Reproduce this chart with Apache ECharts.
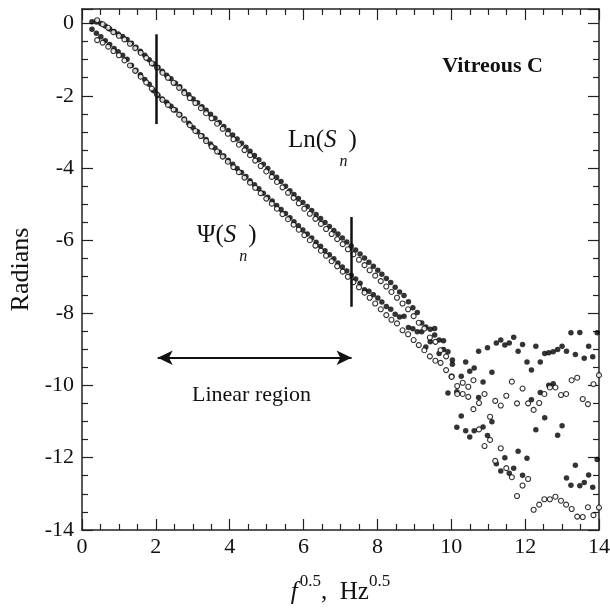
<!DOCTYPE html>
<html>
<head>
<meta charset="utf-8">
<script src="https://cdn.jsdelivr.net/npm/echarts@6/dist/echarts.min.js"></script>
<style>
  html, body { margin: 0; padding: 0; background: #fff; }
  #chart { width: 610px; height: 610px; }
</style>
</head>
<body>
<div id="chart"></div>
<script>
// x positions (f^0.5) of the filled-dot runs and of the open-circle runs
const xFilled = [
  0.27, 0.39, 0.51, 0.63, 0.75, 0.87, 0.98, 1.10, 1.22, 1.34, 1.46, 1.58, 1.70, 1.82, 1.94, 2.06,
  2.17, 2.29, 2.41, 2.53, 2.65, 2.77, 2.89, 3.01, 3.13, 3.25, 3.36, 3.48, 3.60, 3.72, 3.84, 3.96,
  4.08, 4.20, 4.32, 4.44, 4.55, 4.67, 4.79, 4.91, 5.03, 5.15, 5.27, 5.39, 5.51, 5.63, 5.74, 5.86,
  5.98, 6.10, 6.22, 6.34, 6.46, 6.58, 6.70, 6.82, 6.93, 7.05, 7.17, 7.29, 7.41, 7.53, 7.65, 7.77,
  7.89, 8.01, 8.12, 8.24, 8.36, 8.48, 8.60, 8.72, 8.84, 8.96, 9.08, 9.20, 9.31, 9.43, 9.55, 9.67,
  9.79, 9.91, 10.03, 10.15, 10.27, 10.39, 10.50, 10.62, 10.74, 10.86, 10.98, 11.10, 11.22, 11.34, 11.45, 11.57,
  11.69, 11.81, 11.93, 12.05, 12.17, 12.29, 12.41, 12.53, 12.64, 12.76, 12.88, 13.00, 13.12, 13.24, 13.36, 13.48,
  13.60, 13.72, 13.83, 13.95
]
const xOpen = [
  0.41, 0.56, 0.71, 0.85, 1.00, 1.15, 1.30, 1.44, 1.59, 1.74, 1.89, 2.03, 2.18, 2.33, 2.48, 2.63,
  2.77, 2.92, 3.07, 3.22, 3.36, 3.51, 3.66, 3.81, 3.95, 4.10, 4.25, 4.40, 4.55, 4.69, 4.84, 4.99,
  5.14, 5.28, 5.43, 5.58, 5.73, 5.87, 6.02, 6.17, 6.32, 6.47, 6.61, 6.76, 6.91, 7.06, 7.20, 7.35,
  7.50, 7.65, 7.79, 7.94, 8.09, 8.24, 8.38, 8.53, 8.68, 8.83, 8.98, 9.12, 9.27, 9.42, 9.57, 9.71,
  9.86, 10.01, 10.16, 10.31, 10.46, 10.60, 10.75, 10.90, 11.05, 11.19, 11.34, 11.49, 11.64, 11.78, 11.93, 12.08,
  12.23, 12.38, 12.52, 12.67, 12.82, 12.97, 13.11, 13.26, 13.41, 13.56, 13.70, 13.85, 14.00
]

// Ln(Sn), filled dots
const lnFilled = [
  0.05, 0.04, 0.00, -0.07, -0.15, -0.22, -0.29, -0.36, -0.44, -0.55, -0.66, -0.77, -0.88, -1.00, -1.12, -1.22,
  -1.32, -1.43, -1.53, -1.65, -1.75, -1.87, -1.97, -2.09, -2.19, -2.30, -2.40, -2.51, -2.62, -2.74, -2.85, -2.96,
  -3.08, -3.19, -3.31, -3.42, -3.53, -3.65, -3.77, -3.89, -4.01, -4.13, -4.25, -4.37, -4.50, -4.62, -4.73, -4.84,
  -4.95, -5.06, -5.17, -5.28, -5.39, -5.50, -5.61, -5.72, -5.82, -5.93, -6.04, -6.15, -6.26, -6.37, -6.48, -6.60,
  -6.71, -6.82, -6.93, -7.05, -7.16, -7.29, -7.42, -7.52, -7.69, -7.86, -7.99, -8.28, -8.39, -8.45, -8.43, -8.75,
  -8.77, -9.07, -9.30, -11.16, -9.75, -9.36, -9.61, -9.52, -9.06, -9.91, -8.96, -9.64, -8.83, -8.75, -8.89, -8.83,
  -8.67, -9.06, -8.87, -9.36, -9.58, -8.92, -9.36, -9.12, -9.10, -9.07, -9.01, -8.92, -9.06, -8.55, -9.15, -8.54,
  -9.25, -8.92, -9.21, -8.55
]
// Psi(Sn), filled dots
const psiFilled = [
  -0.16, -0.27, -0.37, -0.48, -0.58, -0.69, -0.78, -0.88, -0.99, -1.16, -1.29, -1.42, -1.55, -1.68, -1.86, -1.99,
  -2.09, -2.18, -2.29, -2.39, -2.52, -2.64, -2.76, -2.88, -2.99, -3.10, -3.21, -3.33, -3.44, -3.56, -3.66, -3.78,
  -3.89, -4.01, -4.12, -4.23, -4.35, -4.46, -4.57, -4.69, -4.80, -4.91, -5.03, -5.14, -5.25, -5.37, -5.48, -5.59,
  -5.71, -5.82, -5.93, -6.05, -6.16, -6.28, -6.39, -6.50, -6.62, -6.73, -6.84, -6.96, -7.06, -7.18, -7.36, -7.40,
  -7.50, -7.59, -7.70, -7.82, -7.90, -8.04, -8.11, -8.09, -8.40, -8.44, -8.52, -8.52, -8.94, -8.80, -8.61, -9.12,
  -9.01, -10.21, -9.42, -10.18, -10.85, -11.26, -11.43, -11.26, -10.34, -11.15, -11.39, -11.01, -12.17, -12.37, -12.00, -12.43,
  -12.29, -11.82, -12.49, -12.02, -10.40, -11.23, -10.20, -10.90, -10.00, -9.96, -11.38, -11.12, -12.56, -12.76, -12.21, -12.78,
  -12.69, -12.48, -12.82, -12.05
]
// Ln(Sn), open circles
const lnOpen = [
  0.09, -0.02, -0.12, -0.24, -0.34, -0.44, -0.56, -0.68, -0.81, -0.95, -1.10, -1.22, -1.36, -1.50, -1.64, -1.78,
  -1.92, -2.06, -2.20, -2.34, -2.48, -2.62, -2.77, -2.91, -3.05, -3.20, -3.35, -3.50, -3.64, -3.79, -3.94, -4.09,
  -4.24, -4.38, -4.53, -4.68, -4.82, -4.97, -5.12, -5.26, -5.40, -5.54, -5.68, -5.82, -5.96, -6.10, -6.24, -6.38,
  -6.53, -6.68, -6.82, -6.97, -7.12, -7.27, -7.42, -7.58, -7.74, -7.90, -8.09, -8.27, -8.43, -8.68, -8.80, -9.03,
  -9.20, -9.75, -10.02, -9.93, -10.04, -9.86, -10.49, -10.24, -10.87, -10.43, -10.56, -10.29, -9.90, -10.50, -10.09, -10.50,
  -10.68, -10.49, -10.24, -10.06, -10.06, -10.27, -10.24, -9.86, -9.79, -10.38, -10.52, -9.97, -9.72
]
// Psi(Sn), open circles
const psiOpen = [
  -0.46, -0.53, -0.64, -0.76, -0.88, -1.02, -1.16, -1.31, -1.47, -1.63, -1.80, -1.96, -2.11, -2.25, -2.38, -2.52,
  -2.66, -2.81, -2.97, -3.11, -3.25, -3.40, -3.54, -3.68, -3.82, -3.97, -4.11, -4.26, -4.40, -4.54, -4.69, -4.84,
  -4.98, -5.12, -5.27, -5.41, -5.56, -5.70, -5.85, -5.99, -6.14, -6.28, -6.42, -6.57, -6.71, -6.86, -7.00, -7.15,
  -7.29, -7.44, -7.58, -7.74, -7.90, -8.06, -8.19, -8.29, -8.48, -8.59, -8.75, -8.89, -9.03, -9.20, -9.32, -9.38,
  -9.58, -9.77, -10.24, -10.24, -10.32, -10.66, -11.22, -11.68, -11.51, -12.09, -11.74, -12.29, -12.54, -13.06, -12.77, -12.59,
  -13.44, -13.30, -13.15, -13.15, -13.08, -13.19, -13.30, -13.42, -13.63, -13.64, -13.37, -13.59, -13.38
]

// linear-region markers: [x, yTop, yBottom] and the arrow [xFrom, xTo, y]
const bracket1 = [2.0, -0.3, -2.78]
const bracket2 = [7.3, -5.35, -7.83]
const arrowSpan = [2.05, 7.3, -9.24]

const FONT = '"Liberation Serif", "DejaVu Serif", serif'
const dom = document.getElementById('chart')
const chart = echarts.init(dom, null, { renderer: 'canvas' })

const pairs = (xs, ys) => xs.map((x, i) => [x, ys[i]])
const vline = (b) => [
  { coord: [b[0], b[1]], symbol: 'none' },
  { coord: [b[0], b[2]], symbol: 'none' },
]

const axisBase = {
  type: 'value',
  axisLine: { show: true, onZero: false, lineStyle: { color: '#222', width: 1.5 } },
  axisTick: { show: true, inside: true, length: 11, lineStyle: { color: '#222', width: 1.2 } },
  minorTick: { show: true, splitNumber: 4, length: 6, lineStyle: { color: '#222', width: 1.2 } },
  splitLine: { show: false },
  minorSplitLine: { show: false },
}

const filledStyle = { color: '#000' }
const openStyle = { color: '#fff', borderColor: '#000', borderWidth: 1.1 }

const subText = (lead, left, top) => ({
  type: 'text', left, top,
  style: {
    text: `{t|${lead}}{i|S}{n|n}{t|)}`,
    rich: {
      t: { fontFamily: FONT, fontSize: 25, fill: '#111', lineHeight: 42, verticalAlign: 'top' },
      i: { fontFamily: FONT, fontSize: 25, fontStyle: 'italic', fill: '#111', lineHeight: 42, verticalAlign: 'top', padding: [0, 3, 0, 0] },
      n: { fontFamily: FONT, fontSize: 16, fontStyle: 'italic', fill: '#111', lineHeight: 42, verticalAlign: 'bottom', padding: [0, 1, 0, 0] },
    },
  },
})

const option = {
  animation: false,
  backgroundColor: '#fff',
  grid: { left: 82, right: 11, top: 9, bottom: 80, containLabel: false, outerBoundsMode: 'none' },
  xAxis: [
    {
      ...axisBase,
      position: 'bottom',
      min: 0, max: 14, interval: 2,
      axisLabel: { color: '#111', fontFamily: FONT, fontSize: 22, margin: 6 },
      name: '{i|f}{s|0.5}{t|,  Hz}{s|0.5}',
      nameLocation: 'middle',
      nameGap: 43,
      nameTextStyle: {
        rich: {
          i: { fontFamily: FONT, fontStyle: 'italic', fontSize: 25, color: '#111', lineHeight: 32, verticalAlign: 'bottom', padding: [0, 2, 0, 0] },
          t: { fontFamily: FONT, fontSize: 25, color: '#111', lineHeight: 32, verticalAlign: 'bottom' },
          s: { fontFamily: FONT, fontSize: 17, color: '#111', lineHeight: 32, verticalAlign: 'top' },
        },
      },
    },
    {
      ...axisBase,
      position: 'top',
      min: 0, max: 14, interval: 2,
      axisLabel: { show: false },
    },
  ],
  yAxis: [
    {
      ...axisBase,
      position: 'left',
      min: -14, max: 0.4, interval: 2,
      axisLabel: {
        color: '#111', fontFamily: FONT, fontSize: 22, margin: 8,
        formatter: (v) => (Math.abs(v % 2) < 1e-9 ? String(v) : ''),
      },
      name: 'Radians',
      nameLocation: 'middle',
      nameGap: 44,
      nameTextStyle: { fontFamily: FONT, fontSize: 26, color: '#111' },
    },
    {
      ...axisBase,
      position: 'right',
      min: -14, max: 0.4, interval: 2,
      axisLabel: { show: false },
    },
  ],
  series: [
    {
      name: 'Ln filled',
      type: 'scatter',
      symbolSize: 5.5,
      itemStyle: filledStyle,
      data: pairs(xFilled, lnFilled),
      markLine: {
        silent: true,
        animation: false,
        label: { show: false },
        lineStyle: { color: '#111', type: 'solid', width: 2.5 },
        data: [vline(bracket1), vline(bracket2)],
      },
    },
    {
      name: 'Psi filled',
      type: 'scatter',
      symbolSize: 5.5,
      itemStyle: filledStyle,
      data: pairs(xFilled, psiFilled),
      markLine: {
        silent: true,
        animation: false,
        label: { show: false },
        symbol: ['arrow', 'arrow'],
        symbolSize: [11, 15],
        lineStyle: { color: '#111', type: 'solid', width: 2 },
        data: [[
          { coord: [arrowSpan[0], arrowSpan[2]] },
          { coord: [arrowSpan[1], arrowSpan[2]] },
        ]],
      },
    },
    {
      name: 'Ln open',
      type: 'scatter',
      symbolSize: 5,
      itemStyle: openStyle,
      data: pairs(xOpen, lnOpen),
    },
    {
      name: 'Psi open',
      type: 'scatter',
      symbolSize: 5,
      itemStyle: openStyle,
      data: pairs(xOpen, psiOpen),
    },
  ],
  graphic: [
    {
      type: 'text', right: 67, top: 55,
      style: { text: 'Vitreous C', fill: '#111', font: 'bold 22px ' + FONT },
    },
    subText('Ln(', 288, 128),
    subText('Ψ(', 197, 223),
    {
      type: 'text', left: 192, top: 384,
      style: { text: 'Linear region', fill: '#111', font: '22px ' + FONT },
    },
  ],
}

chart.setOption(option)
</script>
</body>
</html>
